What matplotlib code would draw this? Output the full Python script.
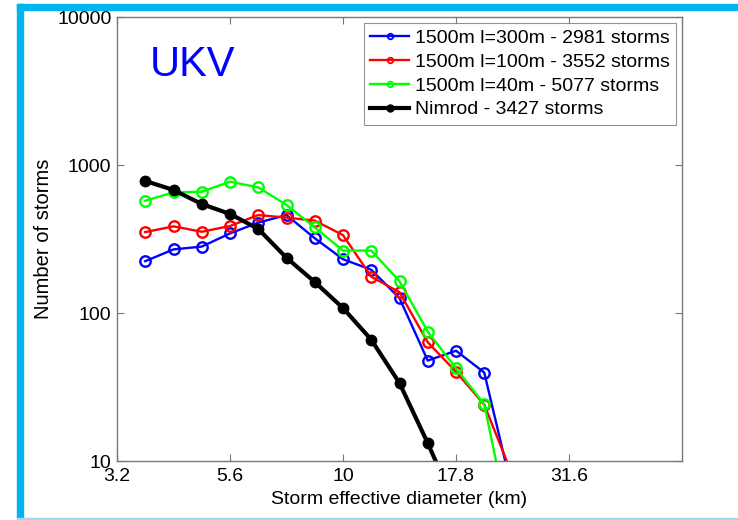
import numpy as np
import matplotlib
matplotlib.use("Agg")
import matplotlib.pyplot as plt
from matplotlib.lines import Line2D
from matplotlib.patches import Rectangle

plt.rcParams['font.family'] = ['Liberation Sans', 'DejaVu Sans']

# bin centres: log10 spacing of 1/16 decade
log_bins = [0.5625, 0.625, 0.6875, 0.75, 0.8125, 0.875, 0.9375, 1.0,
            1.0625, 1.125, 1.1875, 1.25, 1.3125, 1.375, 1.4375]
diam = [10 ** v for v in log_bins]

l300 = [224, 269, 281, 345, 408, 459, 320, 231, 196, 126, 47.7, 55.6, 39.6, 6.2]
l100 = [352, 385, 354, 387, 459, 441, 421, 336, 176, 138, 63.4, 40.1, 24.0, 8.0]
l40 = [574, 653, 660, 771, 706, 537, 379, 264, 264, 164, 74.8, 42.3, 24.2, 2.9]
nimrod = [780, 678, 545, 467, 370, 236, 162, 108, 66, 33.6, 13.2, 4.9]

labels = ['1500m l=300m - 2981 storms', '1500m l=100m - 3552 storms',
          '1500m l=40m - 5077 storms', 'Nimrod - 3427 storms']
xticks = [3.2, 5.6, 10, 17.8, 31.6]
xtick_pos = [10 ** 0.5, 10 ** 0.75, 10 ** 1.0, 10 ** 1.25, 10 ** 1.5]
yticks = [10, 100, 1000, 10000]

fig = plt.figure(figsize=(7.38, 5.2), dpi=100)
W, H = 738, 520
ax = fig.add_axes([117 / W, 1 - 461 / H, (682 - 117) / W, (461 - 17) / H])

ax.plot(diam[:len(l300)], l300, '-o', color='#0000ff', lw=1.7, ms=7.5,
        mfc='none', mew=1.7, label=labels[0])
ax.plot(diam[:len(l100)], l100, '-o', color='#ff0000', lw=1.7, ms=7.5,
        mfc='none', mew=1.7, label=labels[1])
ax.plot(diam[:len(l40)], l40, '-o', color='#00ff00', lw=1.7, ms=7.5,
        mfc='none', mew=1.7, label=labels[2])
ax.plot(diam[:len(nimrod)], nimrod, '-o', color='black', lw=3.0, ms=7.5,
        label=labels[3])

ax.set_xscale('log')
ax.set_yscale('log')
ax.set_xlim(10 ** 0.5, 10 ** 1.75)
ax.set_ylim(10, 10000)
ax.set_xticks(xtick_pos)
ax.set_xticklabels([str(t) for t in xticks])
ax.set_yticks(yticks)
ax.set_yticklabels([str(t) for t in yticks])
ax.minorticks_off()
ax.tick_params(direction='in', top=True, right=True, length=5,
               color='#777777', labelsize=14, pad=4)
ax.tick_params(axis='x', pad=5)
for s in ax.spines.values():
    s.set_color('#777777')
    s.set_linewidth(1.0)
ax.set_xlabel('Storm effective diameter (km)', fontsize=14, labelpad=4)
ax.set_ylabel('Number of storms', fontsize=14.5, labelpad=3)

handles = [
    Line2D([], [], color='#0000ff', lw=1.7, marker='o', ms=4, mfc='none', mew=1.3),
    Line2D([], [], color='#ff0000', lw=1.7, marker='o', ms=4, mfc='none', mew=1.3),
    Line2D([], [], color='#00ff00', lw=1.7, marker='o', ms=4, mfc='none', mew=1.3),
    Line2D([], [], color='black', lw=3.0, marker='o', ms=5),
]
leg = ax.legend(handles, labels, loc='upper right', fontsize=14,
                frameon=True, fancybox=False, edgecolor='#777777',
                borderaxespad=0.3, handlelength=2.0, handletextpad=0.3,
                labelspacing=0.32, borderpad=0.33)
leg.get_frame().set_linewidth(0.8)

ax.text((150 - 117) / (682 - 117), 1 - (76 - 17) / (461 - 17),
        'UKV', transform=ax.transAxes, color='#0000ff', fontsize=30,
        ha='left', va='baseline')

# slide frame decorations
fig.patches.append(Rectangle((17 / W, 1 - 10 / H), (W - 17) / W, 6 / H,
                             transform=fig.transFigure, color='#00b4f0', zorder=0))
fig.patches.append(Rectangle((17 / W, 1 - 519 / H), 6 / W, (519 - 4) / H,
                             transform=fig.transFigure, color='#00b4f0', zorder=0))
fig.patches.append(Rectangle((17 / W, 0), (W - 17) / W, 2 / H,
                             transform=fig.transFigure, color='#a0d8f4', zorder=0))

fig.savefig('out.png', dpi=100)
